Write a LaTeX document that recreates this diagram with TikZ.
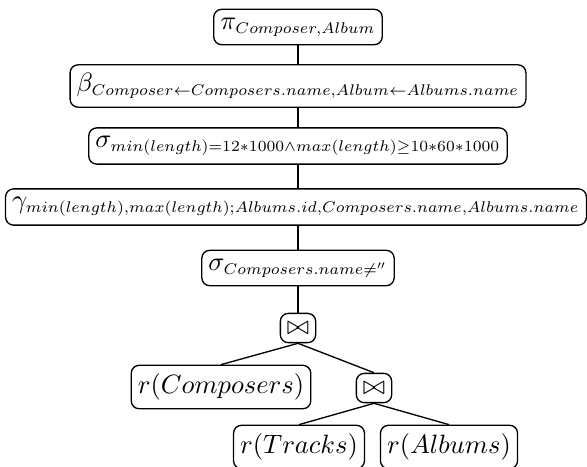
\documentclass[tikz,border=0pt]{standalone}
\usepackage{amsmath,amssymb}
% scalable small math fonts drawn from the 7pt designs
\DeclareFontShape{OML}{cmm}{m}{it}{<-8> cmmi7 <8-> cmmi10}{}
\DeclareFontShape{OT1}{cmr}{m}{n}{<-8> cmr7 <8-> cmr10}{}
\DeclareFontShape{OMS}{cmsy}{m}{n}{<-8> cmsy7 <8-> cmsy10}{}
\DeclareMathSizes{10}{10}{5.85}{4.5}
\begin{document}
\begin{tikzpicture}[x=0.3774pt,y=-0.3774pt,
  op/.style={draw,rounded corners=3pt,inner xsep=2.5pt,inner ysep=3.2pt,line width=0.5pt},
  edge/.style={line width=0.5pt}]
\useasboundingbox (0,0) rectangle (587,466);
% operator chain
\node[op] (proj)  at (298,27)  {$\pi_{Composer,Album}$};
\node[op] (ren)   at (298,86)  {$\beta_{Composer\leftarrow Composers.name,Album\leftarrow Albums.name}$};
\node[op] (sel1)  at (298,146) {$\sigma_{min(length)=12*1000\land max(length)\geq10*60*1000}$};
\node[op] (grp)   at (296,207) {$\gamma_{min(length),max(length);Albums.id,Composers.name,Albums.name}$};
\node[op] (sel2)  at (298,268) {$\sigma_{Composers.name\neq''}$};
\node[op] (join1) at (298,328) {$\bowtie$};
% leaves and inner join
\node[op] (comp)   at (221,387) {$r(Composers)$};
\node[op] (join2)  at (374,388) {$\bowtie$};
\node[op] (tracks) at (299,447) {$r(Tracks)$};
\node[op] (albums) at (449,447) {$r(Albums)$};
% tree edges
\draw[edge] (proj.south) -- (ren.north);
\draw[edge] (ren.south) -- (sel1.north);
\draw[edge] (sel1.south) -- (grp.north -| sel1.south);
\draw[edge] (grp.south -| sel2.north) -- (sel2.north);
\draw[edge] (sel2.south) -- (join1.north);
\draw[edge] (join1.south) -- (comp.north);
\draw[edge] (join1.south) -- (join2.north);
\draw[edge] (join2.south) -- (tracks.north);
\draw[edge] (join2.south) -- (albums.north);
\end{tikzpicture}
\end{document}
